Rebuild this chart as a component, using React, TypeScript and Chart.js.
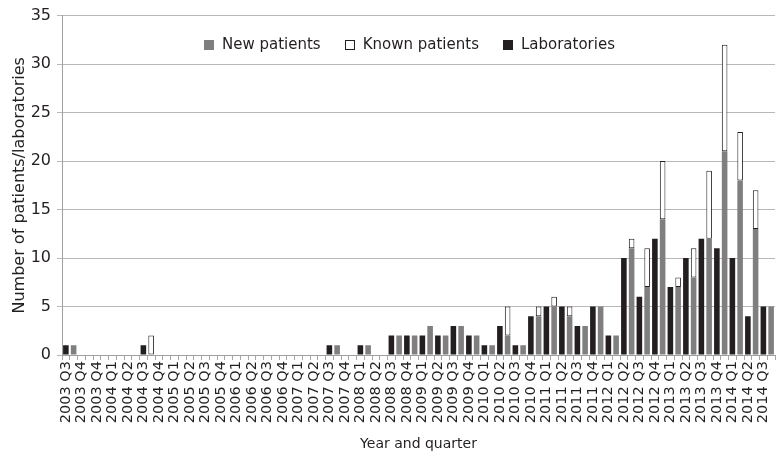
import React, { useEffect, useRef } from "react";
import { Chart, registerables } from "chart.js";

Chart.register(...registerables);

const quarters = [
  "2003 Q3", "2003 Q4", "2003 Q4",
  "2004 Q1", "2004 Q2", "2004 Q3", "2004 Q4",
  "2005 Q1", "2005 Q2", "2005 Q3", "2005 Q4",
  "2006 Q1", "2006 Q2", "2006 Q3", "2006 Q4",
  "2007 Q1", "2007 Q2", "2007 Q3", "2007 Q4",
  "2008 Q1", "2008 Q2", "2008 Q3", "2008 Q4",
  "2009 Q1", "2009 Q2", "2009 Q3", "2009 Q4",
  "2010 Q1", "2010 Q2", "2010 Q3", "2010 Q4",
  "2011 Q1", "2011 Q2", "2011 Q3", "2011 Q4",
  "2012 Q1", "2012 Q2", "2012 Q3", "2012 Q4",
  "2013 Q1", "2013 Q2", "2013 Q3", "2013 Q4",
  "2014 Q1", "2014 Q2", "2014 Q3",
];

const laboratories = [
  1, 0, 0, 0, 0, 1, 0, 0, 0, 0, 0, 0, 0, 0, 0, 0, 0, 1, 0, 1, 0, 2, 2,
  2, 2, 3, 2, 1, 3, 1, 4, 5, 5, 3, 5, 2, 10, 6, 12, 7, 10, 12, 11, 10, 4, 5,
];

const newPatients = [
  1, 0, 0, 0, 0, 0, 0, 0, 0, 0, 0, 0, 0, 0, 0, 0, 0, 1, 0, 1, 0, 2, 2,
  3, 2, 3, 2, 1, 2, 1, 4, 5, 4, 3, 5, 2, 11, 7, 14, 7, 8, 12, 21, 18, 13, 5,
];

const knownPatients = [
  0, 0, 0, 0, 0, 2, 0, 0, 0, 0, 0, 0, 0, 0, 0, 0, 0, 0, 0, 0, 0, 0, 0,
  0, 0, 0, 0, 0, 3, 0, 1, 1, 1, 0, 0, 0, 1, 4, 6, 1, 3, 7, 11, 5, 4, 0,
];

const seriesNames = ["New patients", "Known patients", "Laboratories"];
const yMax = 35;
const yStep = 5;

const FONT = "'DejaVu Sans', sans-serif";
const INK = "#231f20";
const GREY = "#7f7f7f";

const innerLegend = {
  id: "innerLegend",
  afterDatasetsDraw(chart: any) {
    const { ctx, chartArea } = chart;
    ctx.save();
    ctx.font = `15px ${FONT}`;
    const box = 10;
    const gapText = 8;
    const gapItem = 24;
    const items = chart.data.datasets.map((ds: any) => ({
      text: ds.label,
      fill: ds.backgroundColor,
      stroke: ds.borderWidth ? ds.borderColor : null,
    }));
    const widths = items.map(
      (it: any) => box + gapText + ctx.measureText(it.text).width
    );
    const total =
      widths.reduce((a: number, b: number) => a + b, 0) +
      gapItem * (items.length - 1);
    let x = (chartArea.left + chartArea.right) / 2 - total / 2 - 9;
    const cy = chartArea.top + 29;
    ctx.textBaseline = "middle";
    ctx.textAlign = "left";
    items.forEach((it: any, i: number) => {
      const bx = Math.round(x);
      const by = Math.round(cy - box / 2);
      ctx.fillStyle = it.fill;
      ctx.fillRect(bx, by, box, box);
      if (it.stroke) {
        ctx.strokeStyle = it.stroke;
        ctx.lineWidth = 1;
        ctx.strokeRect(bx + 0.5, by + 0.5, box - 1, box - 1);
      }
      ctx.fillStyle = INK;
      ctx.fillText(it.text, x + box + gapText, cy + 1);
      x += widths[i] + gapItem;
    });
    ctx.restore();
  },
};

export default function App() {
  const ref = useRef<HTMLCanvasElement>(null);

  useEffect(() => {
    if (!ref.current) return;
    const slotLabels: string[] = [];
    const labSlots: (number | null)[] = [];
    const newSlots: (number | null)[] = [];
    const knownSlots: (number | null)[] = [];
    quarters.forEach((q, i) => {
      slotLabels.push(q, "");
      labSlots.push(laboratories[i] || null, null);
      newSlots.push(null, newPatients[i] || null);
      knownSlots.push(null, knownPatients[i] || null);
    });

    const chart = new Chart(ref.current, {
      type: "bar",
      data: {
        labels: slotLabels,
        datasets: [
          {
            label: seriesNames[0],
            data: newSlots,
            backgroundColor: GREY,
            borderWidth: 0,
            stack: "s",
          },
          {
            label: seriesNames[1],
            data: knownSlots,
            backgroundColor: "#ffffff",
            borderColor: INK,
            borderWidth: 1,
            borderSkipped: false,
            stack: "s",
          },
          {
            label: seriesNames[2],
            data: labSlots,
            backgroundColor: INK,
            borderWidth: 0,
            stack: "s",
          },
        ],
      },
      options: {
        animation: false,
        responsive: true,
        maintainAspectRatio: false,
        layout: { padding: { top: 9, right: 1, left: 0, bottom: 0 } },
        datasets: {
          bar: { categoryPercentage: 1, barPercentage: 0.72 },
        },
        plugins: {
          legend: { display: false },
          tooltip: { enabled: false },
        },
        scales: {
          x: {
            stacked: true,
            afterFit: (s: any) => {
              s.height = 101;
              s.paddingLeft = 0;
              s.paddingRight = 0;
            },
            grid: {
              drawOnChartArea: false,
              drawTicks: true,
              tickLength: 5,
              color: "#a8a8a8",
            },
            border: { color: "#a0a0a0" },
            ticks: {
              autoSkip: false,
              minRotation: 90,
              maxRotation: 90,
              padding: 1,
              color: INK,
              font: { family: FONT, size: 14.5 },
            },
            title: {
              display: true,
              text: "Year and quarter",
              color: INK,
              font: { family: FONT, size: 14 },
              padding: { top: 0, bottom: 3 },
            },
          },
          y: {
            stacked: true,
            min: 0,
            max: yMax,
            afterFit: (s: any) => {
              s.width = 62;
            },
            grid: {
              color: "#b8b8b8",
              drawTicks: true,
              tickLength: 5,
            },
            border: { color: "#a0a0a0" },
            ticks: {
              stepSize: yStep,
              padding: 6,
              color: INK,
              font: { family: FONT, size: 16 },
            },
            title: {
              display: true,
              text: "Number of patients/laboratories",
              color: INK,
              font: { family: FONT, size: 16 },
              padding: { top: 10, bottom: 0 },
            },
          },
        },
      },
      plugins: [innerLegend],
    } as any);

    return () => chart.destroy();
  }, []);

  return (
    <div
      style={{
        position: "fixed",
        left: 0,
        top: 0,
        width: 776,
        height: 456,
        background: "#ffffff",
      }}
    >
      <canvas ref={ref} />
    </div>
  );
}
